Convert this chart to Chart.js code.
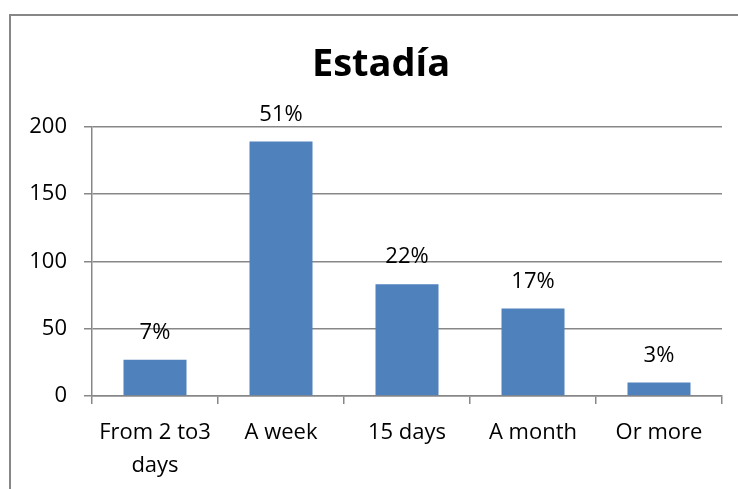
<!DOCTYPE html>
<html>
<head>
<meta charset="utf-8">
<script src="https://cdn.jsdelivr.net/npm/chart.js@4"></script>
<style>
  html, body { margin: 0; padding: 0; background: #fff; overflow: hidden; width: 738px; height: 489px; }
  #frame { position: absolute; left: 9px; top: 14px; width: 740px; height: 474px;
           border-left: 2px solid #878787; border-top: 2px solid #878787; }
  canvas { display: block; }
</style>
</head>
<body>
<div id="frame"><canvas id="chart" width="740" height="474"></canvas></div>
<script>
// jshint esversion:6

const categories = [["From 2 to3", "days"], "A week", "15 days", "A month", "Or more"];
const stays = [27, 189, 83, 65, 10];
const shares = ["7%", "51%", "22%", "17%", "3%"];

const gridColor = "#878787";

// percentage labels above each bar
const shareLabels = {
  id: "shareLabels",
  afterDatasetsDraw(chart) {
    const c = chart.ctx;
    const bars = chart.getDatasetMeta(0).data;
    c.save();
    c.font = "22px 'Open Sans'";
    c.fillStyle = "#000";
    c.textAlign = "center";
    c.textBaseline = "middle";
    bars.forEach((bar, i) => {
      c.fillText(shares[i], bar.x, bar.y - 27);
    });
    c.restore();
  },
};

Chart.defaults.font.family = "'Open Sans'";
Chart.defaults.color = "#000";

const ctx = document.getElementById("chart").getContext("2d");
const myChart = new Chart(ctx, {
  type: "bar",
  data: {
    labels: categories,
    datasets: [
      {
        label: "Estadía",
        data: stays,
        backgroundColor: "#4F81BD",
        borderWidth: 0,
        barPercentage: 0.5,
        categoryPercentage: 1,
      },
    ],
  },
  options: {
    responsive: false,
    animation: false,
    plugins: {
      legend: { display: false },
      tooltip: { enabled: false },
      title: {
        display: true,
        text: "Estadía",
        font: { size: 38, weight: "bold" },
        color: "#000",
        padding: { top: 26, bottom: 39 },
      },
    },
    scales: {
      x: {
        afterFit(scale) {
          scale.height = 94;
        },
        grid: {
          drawOnChartArea: false,
          tickLength: 8,
          color: gridColor,
          lineWidth: 1.5,
        },
        border: { display: true, color: gridColor, width: 1.5 },
        ticks: {
          font: { size: 22, lineHeight: 1.5 },
          padding: 12,
          maxRotation: 0,
          autoSkip: false,
        },
      },
      y: {
        min: 0,
        max: 200,
        afterFit(scale) {
          scale.width = 81;
        },
        grid: {
          tickLength: 8,
          color: gridColor,
          lineWidth: 1.5,
        },
        border: { display: true, color: gridColor, width: 1.5 },
        ticks: {
          stepSize: 50,
          font: { size: 22 },
          padding: 17,
        },
      },
      // empty right-hand gap, keeps the title centred on the whole chart
      gap: {
        position: "right",
        afterFit(scale) {
          scale.width = 29;
        },
        grid: { display: false },
        border: { display: false },
        ticks: { display: false },
      },
    },
  },
  plugins: [shareLabels],
});
</script>
</body>
</html>
